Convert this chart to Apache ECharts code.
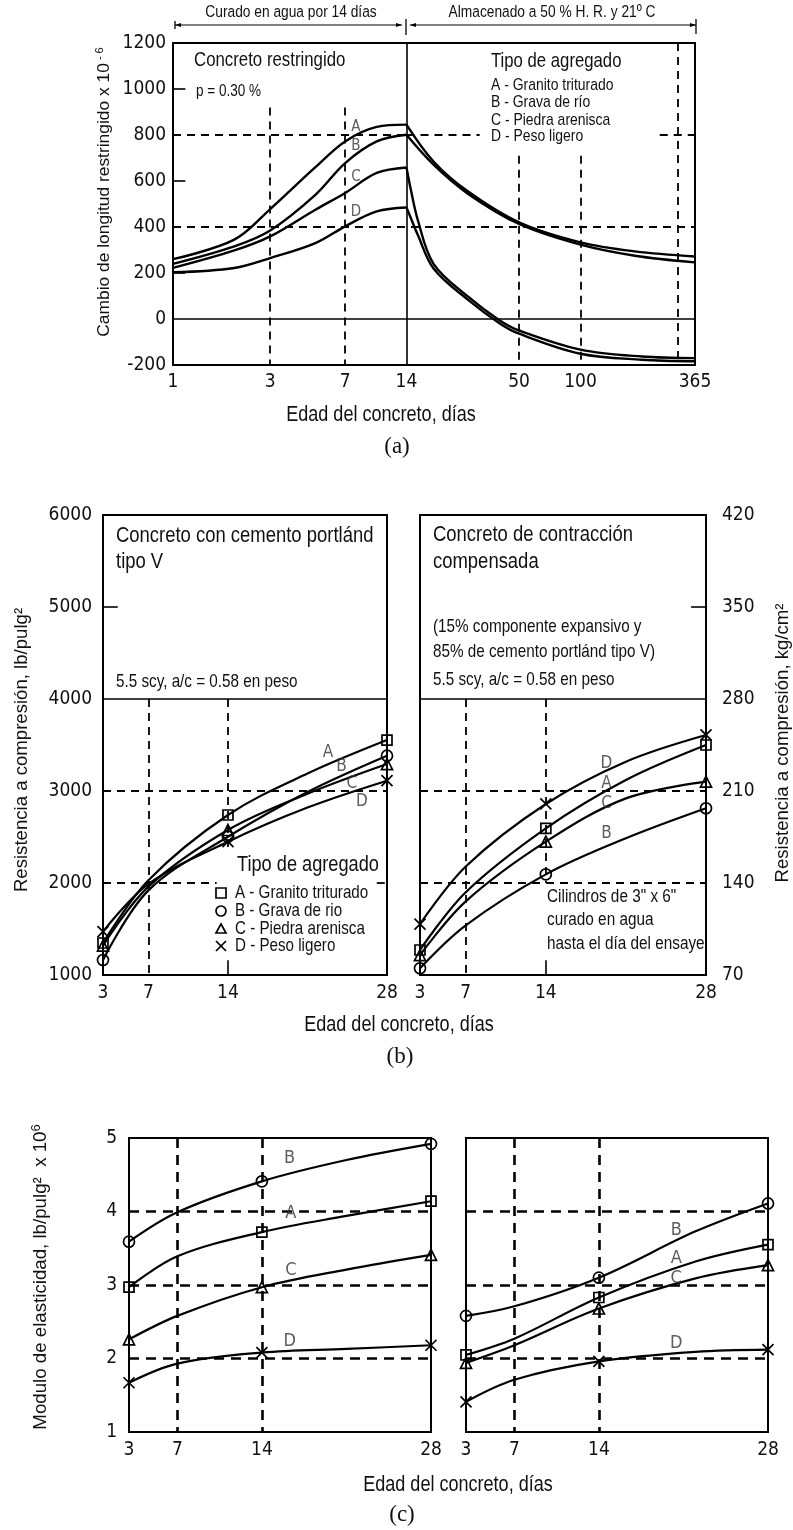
<!DOCTYPE html>
<html>
<head>
<meta charset="utf-8">
<script src="https://cdn.jsdelivr.net/npm/echarts@6/dist/echarts.min.js"></script>
<style>
  html, body { margin: 0; padding: 0; background: #fff; }
  #main { width: 793px; height: 1530px; }
</style>
</head>
<body>
<div id="main"></div>
<script>
// ---- (a) cambio de longitud restringido ----
const aTicks = [1, 3, 7, 14, 50, 100, 300, 365];
const aDaysRise = [1, 2, 3, 5, 7, 10, 14];
const aRiseA = [260, 345, 478, 660, 772, 835, 845];
const aRiseB = [240, 316, 385, 540, 678, 772, 801];
const aRiseC = [222, 298, 359, 475, 548, 635, 659];
const aRiseD = [203, 222, 265, 330, 403, 468, 485];
const aDaysFallAB = [14, 19, 28, 50, 100, 185, 365];
const aFallA = [845, 685, 555, 420, 333, 294, 272];
const aFallB = [801, 671, 545, 413, 323, 275, 246];
const aDaysFallCD = [14, 14.7, 15.9, 19, 28, 40, 50, 100, 200, 365];
const aFallC = [659, 563, 431, 240, 98, -5, -50, -133, -163, -170];
const aFallD = [485, 439, 366, 220, 84, -18, -64, -151, -177, -184];
const aLegend = ['A - Granito triturado', 'B - Grava de río', 'C - Piedra arenisca', 'D - Peso ligero'];

// ---- (b) resistencia a compresion ----
const dayTicks = [3, 7, 14, 28];
const bDays = [3, 7, 14, 21, 28];
const bLeftA = [1348, 2030, 2739, 3190, 3554];
const bLeftB = [1163, 1920, 2503, 2990, 3384];
const bLeftC = [1320, 1960, 2576, 2970, 3293];
const bLeftD = [1471, 1990, 2449, 2820, 3112];
const bRightA = [1272, 1900, 2594, 3120, 3500];
const bRightB = [1073, 1540, 2094, 2486, 2812];
const bRightC = [1217, 1800, 2449, 2920, 3101];
const bRightD = [1554, 2180, 2859, 3319, 3609];
const bLegend = ['A - Granito triturado', 'B - Grava de rio', 'C - Piedra arenisca', 'D - Peso ligero'];

// ---- (c) modulo de elasticidad ----
const cDaysL = [3, 7, 14, 21, 28];
const cLeftA = [2.97, 3.39, 3.72, 3.94, 4.14];
const cLeftB = [3.59, 3.99, 4.41, 4.70, 4.92];
const cLeftC = [2.26, 2.58, 2.97, 3.21, 3.41];
const cLeftD = [1.67, 1.93, 2.08, 2.13, 2.18];
const cDaysR = [3, 7, 14, 22, 28];
const cRightA = [2.05, 2.27, 2.83, 3.32, 3.55];
const cRightB = [2.58, 2.71, 3.10, 3.73, 4.11];
const cRightC = [1.94, 2.18, 2.68, 3.09, 3.27];
const cRightD = [1.41, 1.71, 1.96, 2.09, 2.12];

// letter tags next to the curves (data coordinates)
const aTags = [['A', 7.9, 836], ['B', 7.9, 750], ['C', 7.9, 617], ['D', 7.9, 465]];
const bLeftTags = [['A', 22.8, 3413], ['B', 24, 3261], ['C', 24.9, 3076], ['D', 25.8, 2880]];
const bRightTags = [['D', 19.3, 3301], ['A', 19.3, 3084], ['C', 19.3, 2866], ['B', 19.3, 2540]];
const cLeftTags = [['B', 16.3, 4.72], ['A', 16.4, 3.98], ['C', 16.4, 3.2], ['D', 16.3, 2.23]];
const cRightTags = [['B', 20.4, 3.75], ['A', 20.4, 3.36], ['C', 20.4, 3.09], ['D', 20.4, 2.2]];

const SANS = '"Liberation Sans",Arial,sans-serif';
const COND = '"DejaVu Sans Condensed","Liberation Sans",sans-serif';
const SERIF = '"Liberation Serif","DejaVu Serif",serif';
const INK = '#111';
const NARROW = 0.82;
const SYM = {
  A: 'rect',
  B: 'circle',
  C: 'triangle',
  D: 'path://M0,0L10,10M10,0L0,10'
};
const MARKED = [0, 2, 4]; // measured days 3, 14, 28

var chart = echarts.init(document.getElementById('main'));

function curve(grid, xs, ys, letter, withMarks, width) {
  return {
    type: 'line',
    xAxisIndex: grid,
    yAxisIndex: grid,
    smooth: 0.35,
    showAllSymbol: true,
    symbolSize: letter === 'A' ? 10 : 11,
    data: xs.map(function (x, i) {
      return {
        value: [x, ys[i]],
        symbol: withMarks && MARKED.indexOf(i) >= 0 ? SYM[letter] : 'none'
      };
    }),
    lineStyle: { color: '#000', width: width || 2.2 },
    itemStyle: { color: 'rgba(0,0,0,0)', borderColor: '#000', borderWidth: 1.7 },
    z: 4
  };
}

function tags(grid, list, size) {
  return {
    type: 'scatter',
    xAxisIndex: grid,
    yAxisIndex: grid,
    symbolSize: 1,
    itemStyle: { color: 'rgba(0,0,0,0)' },
    data: list.map(function (t) { return { name: t[0], value: [t[1], t[2]] }; }),
    label: {
      show: true, position: 'inside', formatter: '{b}',
      color: '#333', fontSize: size, fontFamily: COND
    },
    z: 5
  };
}

function seg(x1, y1, x2, y2, solid) {
  var a = { coord: [x1, y1] };
  if (solid) a.lineStyle = { type: 'solid', width: 1.6 };
  return [a, { coord: [x2, y2] }];
}

function guides(grid, segs, dash, width) {
  return {
    type: 'line',
    xAxisIndex: grid,
    yAxisIndex: grid,
    data: [],
    silent: true,
    markLine: {
      symbol: ['none', 'none'],
      silent: true,
      animation: false,
      label: { show: false },
      lineStyle: { color: '#000', type: dash || [8, 6], width: width || 1.8 },
      data: segs
    }
  };
}

var tickLabel = function (margin) {
  return {
    margin: margin, fontSize: 19, color: INK, fontFamily: COND,
    formatter: function (v) { return String(v); }
  };
};

function xAx(grid) {
  return {
    gridIndex: grid,
    type: 'value',
    min: 3,
    max: 28,
    axisLine: { show: false },
    axisTick: { show: false },
    splitLine: { show: false },
    axisLabel: Object.assign(tickLabel(9), { customValues: dayTicks })
  };
}

function yAx(grid, min, max, interval, showLabel, margin) {
  return {
    gridIndex: grid,
    type: 'value',
    min: min,
    max: max,
    interval: interval,
    axisLine: { show: false },
    axisTick: { show: false },
    splitLine: { show: false },
    axisLabel: Object.assign(tickLabel(margin), { show: showLabel })
  };
}

// horizontal text; sx < 1 squeezes it like the narrow face of the original
function txt(s, x, y, size, align, sx, font) {
  return {
    type: 'text', x: x, y: y, scaleX: sx || NARROW, silent: true,
    style: {
      text: s, fill: INK, align: align || 'left', verticalAlign: 'middle',
      font: size + 'px ' + (font || SANS)
    }
  };
}

function vtxt(s, x, y, size, rich) {
  return {
    type: 'text', x: x, y: y, rotation: Math.PI / 2, silent: true,
    style: {
      text: s, fill: INK, align: 'center', verticalAlign: 'middle',
      font: size + 'px ' + SANS, rich: rich || {}
    }
  };
}

var frame = { show: true, borderColor: '#000', borderWidth: 2, backgroundColor: 'transparent' };

var series = [];
// (a)
series.push(curve(0, aDaysRise, aRiseA, 'A', false, 2.4));
series.push(curve(0, aDaysRise, aRiseB, 'B', false, 2.4));
series.push(curve(0, aDaysRise, aRiseC, 'C', false, 2.4));
series.push(curve(0, aDaysRise, aRiseD, 'D', false, 2.4));
series.push(curve(0, aDaysFallAB, aFallA, 'A', false, 2.4));
series.push(curve(0, aDaysFallAB, aFallB, 'B', false, 2.4));
series.push(curve(0, aDaysFallCD, aFallC, 'C', false, 2.4));
series.push(curve(0, aDaysFallCD, aFallD, 'D', false, 2.4));
series.push(tags(0, aTags, 15));
series.push(guides(0, [
  seg(3, 920, 3, -200), seg(7, 920, 7, -200),
  seg(50, 710, 50, -200), seg(100, 710, 100, -200), seg(300, 1200, 300, -200),
  seg(1, 800, 14, 800), seg(14, 800, 32, 800), seg(245, 800, 365, 800),
  seg(1, 400, 365, 400),
  seg(14, 1200, 14, -200, true), seg(1, 0, 365, 0, true),
  seg(1, 1000, 1.15, 1000, true), seg(1, 600, 1.15, 600, true), seg(1, 200, 1.15, 200, true)
]));

// (b) izquierda
series.push(curve(1, bDays, bLeftA, 'A', true));
series.push(curve(1, bDays, bLeftB, 'B', true));
series.push(curve(1, bDays, bLeftC, 'C', true));
series.push(curve(1, bDays, bLeftD, 'D', true));
series.push(tags(1, bLeftTags, 17));
series.push(guides(1, [
  seg(3, 3000, 28, 3000), seg(3, 2000, 13, 2000), seg(27.1, 2000, 28, 2000),
  seg(7, 4000, 7, 1000), seg(14, 4000, 14, 2350),
  seg(3, 4000, 28, 4000, true), seg(14, 1000, 14, 1160, true), seg(3, 5000, 4.3, 5000, true)
]));
// (b) derecha
series.push(curve(2, bDays, bRightA, 'A', true));
series.push(curve(2, bDays, bRightB, 'B', true));
series.push(curve(2, bDays, bRightC, 'C', true));
series.push(curve(2, bDays, bRightD, 'D', true));
series.push(tags(2, bRightTags, 17));
series.push(guides(2, [
  seg(3, 3000, 28, 3000), seg(3, 2000, 28, 2000),
  seg(7, 4000, 7, 1000), seg(14, 4000, 14, 2000),
  seg(3, 4000, 28, 4000, true), seg(14, 1000, 14, 1160, true), seg(26.7, 5000, 28, 5000, true)
]));

// (c)
series.push(curve(3, cDaysL, cLeftA, 'A', true));
series.push(curve(3, cDaysL, cLeftB, 'B', true));
series.push(curve(3, cDaysL, cLeftC, 'C', true));
series.push(curve(3, cDaysL, cLeftD, 'D', true));
series.push(tags(3, cLeftTags, 18));
series.push(guides(3, [
  seg(3, 4, 28, 4), seg(3, 3, 28, 3), seg(3, 2, 28, 2), seg(7, 5, 7, 1), seg(14, 5, 14, 1)
], [10, 7], 2.6));
series.push(curve(4, cDaysR, cRightA, 'A', true));
series.push(curve(4, cDaysR, cRightB, 'B', true));
series.push(curve(4, cDaysR, cRightC, 'C', true));
series.push(curve(4, cDaysR, cRightD, 'D', true));
series.push(tags(4, cRightTags, 18));
series.push(guides(4, [
  seg(3, 4, 28, 4), seg(3, 3, 28, 3), seg(3, 2, 28, 2), seg(7, 5, 7, 1), seg(14, 5, 14, 1)
], [10, 7], 2.6));

// textos
var g = [];
// (a) encabezado con flechas
g.push(txt('Curado en agua por 14 días', 291, 12, 16.8, 'center'));
g.push(txt('Almacenado a 50 % H. R. y 21º C', 552, 12, 16.8, 'center'));
[[175, 402], [410, 696]].forEach(function (s) {
  g.push({ type: 'line', silent: true, shape: { x1: s[0], y1: 25, x2: s[1], y2: 25 }, style: { stroke: '#000', lineWidth: 1.2 } });
  g.push({ type: 'polygon', silent: true, shape: { points: [[s[0], 25], [s[0] + 6, 23], [s[0] + 6, 27]] }, style: { fill: '#000' } });
  g.push({ type: 'polygon', silent: true, shape: { points: [[s[1], 25], [s[1] - 6, 23], [s[1] - 6, 27]] }, style: { fill: '#000' } });
});
[[175, 21, 29], [406, 19, 35], [696, 19, 34]].forEach(function (t) {
  g.push({ type: 'line', silent: true, shape: { x1: t[0], y1: t[1], x2: t[0], y2: t[2] }, style: { stroke: '#000', lineWidth: 1.3 } });
});
g.push(txt('Concreto restringido', 194, 60, 20.5));
g.push(txt('p = 0.30 %', 196, 91, 16.5));
g.push(txt('Tipo de agregado', 491, 61, 20.4));
[85, 102, 120, 136].forEach(function (y, i) { g.push(txt(aLegend[i], 491, y, 17)); });
g.push(vtxt('Cambio de longitud restringido x 10{s| - 6}', 104, 192, 17.4,
  { s: { fontSize: 11, fontFamily: SANS, fill: INK, verticalAlign: 'top', padding: [0, 0, 9, 0] } }));
g.push(txt('Edad del concreto, días', 381, 415, 22, 'center'));
g.push(txt('(a)', 397, 447, 23, 'center', 1, SERIF));

// (b)
g.push(txt('Concreto con cemento portlánd', 116, 536, 22.5));
g.push(txt('tipo V', 116, 562, 22.5));
g.push(txt('5.5 scy, a/c = 0.58 en peso', 116, 682, 18.6));
g.push(txt('Concreto de contracción', 433, 535, 22.5));
g.push(txt('compensada', 433, 562, 22.5));
g.push(txt('(15% componente expansivo y', 433, 627, 18.6));
g.push(txt('85% de cemento portlánd tipo V)', 433, 652, 18.6));
g.push(txt('5.5 scy, a/c = 0.58 en peso', 433, 680, 18.6));
g.push(txt('Tipo de agregado', 237, 865, 22.2));
var legY = [893, 911, 929, 946];
legY.forEach(function (y, i) { g.push(txt(bLegend[i], 235, y, 18.5)); });
var mk = { fill: 'none', stroke: '#000', lineWidth: 1.7 };
g.push({ type: 'rect', silent: true, shape: { x: 216, y: legY[0] - 5, width: 10, height: 10 }, style: mk });
g.push({ type: 'circle', silent: true, shape: { cx: 221, cy: legY[1], r: 5 }, style: mk });
g.push({ type: 'polygon', silent: true, shape: { points: [[221, legY[2] - 5], [226, legY[2] + 4], [216, legY[2] + 4]] }, style: mk });
g.push({ type: 'polyline', silent: true, shape: { points: [[216, legY[3] - 5], [226, legY[3] + 5]] }, style: mk });
g.push({ type: 'polyline', silent: true, shape: { points: [[226, legY[3] - 5], [216, legY[3] + 5]] }, style: mk });
g.push(txt('Cilindros de 3" x 6"', 547, 897, 18.7));
g.push(txt('curado en agua', 547, 920, 18.7));
g.push(txt('hasta el día del ensaye', 547, 944, 18.7));
g.push(vtxt('Resistencia a compresión, lb/pulg²', 22, 750, 18.6));
g.push(vtxt('Resistencia a compresión, kg/cm²', 783, 743, 18.6));
g.push(txt('Edad del concreto, días', 399, 1025, 22, 'center'));
g.push(txt('(b)', 400, 1057, 23, 'center', 1, SERIF));

// (c)
g.push(vtxt('Modulo de elasticidad, lb/pulg²  x 10{s|6}', 41, 1277, 18.7,
  { s: { fontSize: 13, fontFamily: SANS, fill: INK, verticalAlign: 'top', padding: [0, 0, 9, 0] } }));
g.push(txt('Edad del concreto, días', 458, 1485, 22, 'center'));
g.push(txt('(c)', 402, 1515, 23, 'center', 1, SERIF));

var option = {
  backgroundColor: '#fff',
  animation: false,
  textStyle: { fontFamily: COND, color: INK },
  grid: [
    Object.assign({ left: 173, top: 43, width: 522, height: 322 }, frame),
    Object.assign({ left: 103, top: 515, width: 284, height: 460 }, frame),
    Object.assign({ left: 420, top: 515, width: 286, height: 460 }, frame),
    Object.assign({ left: 129, top: 1138, width: 302, height: 294 }, frame),
    Object.assign({ left: 466, top: 1138, width: 302, height: 294 }, frame)
  ],
  xAxis: [
    {
      gridIndex: 0, type: 'log', logBase: 10, min: 1, max: 365,
      axisLine: { show: false }, axisTick: { show: false }, splitLine: { show: false },
      axisLabel: Object.assign(tickLabel(8), {
        customValues: aTicks, showMinLabel: true, showMaxLabel: true, hideOverlap: false
      })
    },
    xAx(1), xAx(2), xAx(3), xAx(4)
  ],
  yAxis: [
    yAx(0, -200, 1200, 200, true, 7),
    yAx(1, 1000, 6000, 1000, true, 11),
    yAx(2, 1000, 6000, 1000, false, 11),
    yAx(3, 1, 5, 1, true, 12),
    yAx(4, 1, 5, 1, false, 12),
    {
      gridIndex: 2, type: 'value', position: 'right', min: 70, max: 420, interval: 70,
      axisLine: { show: false }, axisTick: { show: false }, splitLine: { show: false },
      axisLabel: tickLabel(16)
    }
  ],
  series: series,
  graphic: g
};

chart.setOption(option);
</script>
</body>
</html>
